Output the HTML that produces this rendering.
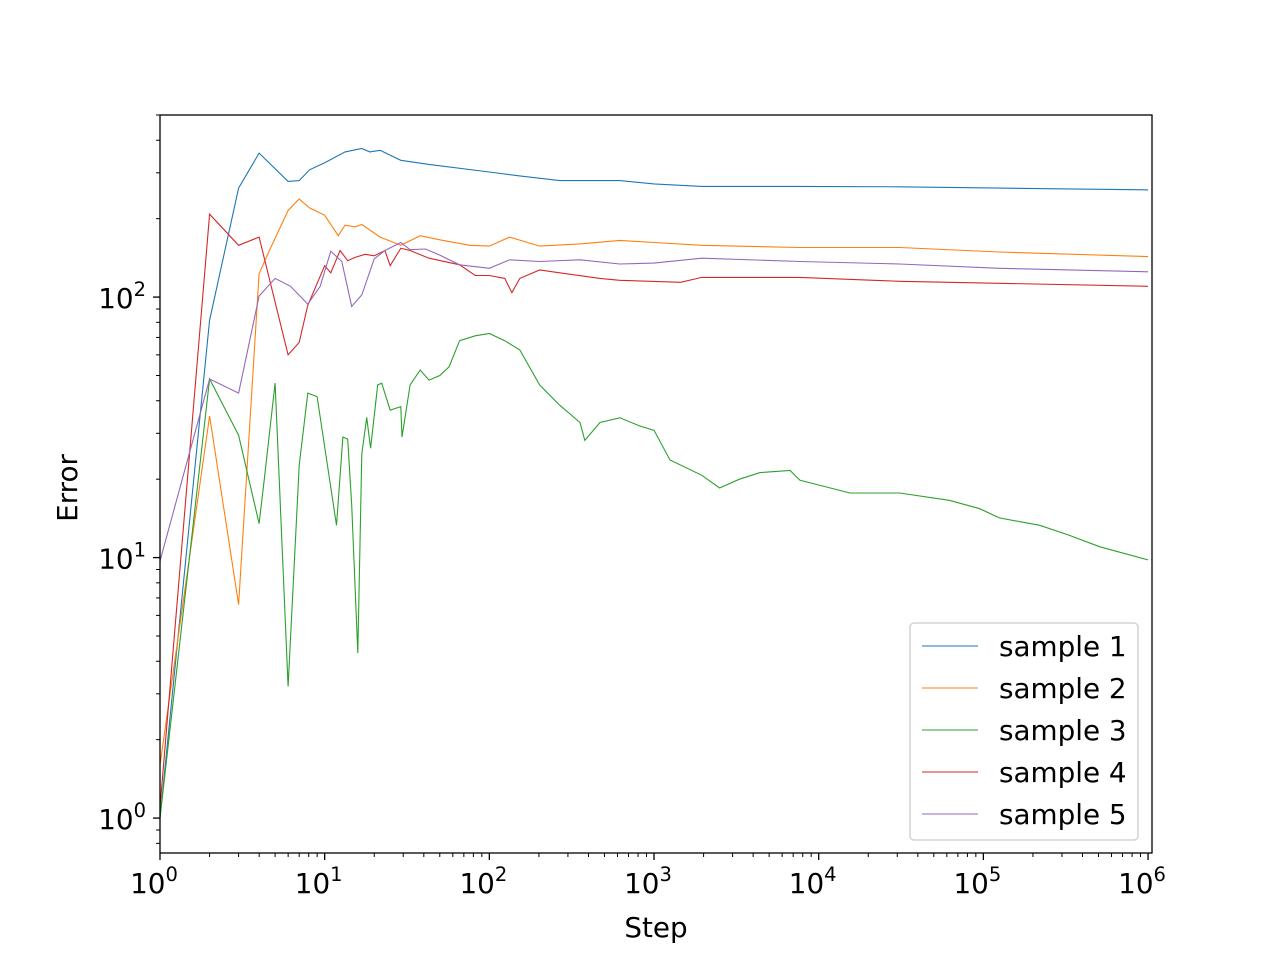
<!DOCTYPE html>
<html><head><meta charset="utf-8"><style>
html,body{margin:0;padding:0;background:#fff}
svg text{font-family:"DejaVu Sans","Liberation Sans",sans-serif;fill:#000}
</style></head><body>
<svg id="chart" width="1280" height="960" xmlns="http://www.w3.org/2000/svg"></svg>
<script>
const seriesNames=["sample 1","sample 2","sample 3","sample 4","sample 5"];
const colors=["#1f77b4","#ff7f0e","#2ca02c","#d62728","#9467bd"];
const s1Steps=[1,2,3,4,6,7,8.1,10,13.3,16.8,18.8,21.7,29,43,100,153,267,620,1000,1950,7700,31000,125000,1000000];
const s1Vals=[1,81.6,262,357,278,280,308,328,361,372,361,366,335,323,302,292,280,280,272,266,266,265,262,258];
const s2Steps=[1,2,3,4,4.6,6,7,8.1,10,12.1,13.3,15.3,16.8,21.7,29,38,50,76,100,133,202,355,620,1000,1950,7700,31000,125000,1000000];
const s2Vals=[1.6,35,6.6,123,150,215,238,220,206,172,189,186,190,170,158,172,166,158,157,170,157,160,165,162,158,155,155,149,143];
const s3Steps=[1,2,3,4,4.3,5,6,7,7.9,9,11.8,12.9,13.8,14.6,15.9,16.8,18,19,21,22.2,25,29,29.5,33,38,43,50,57,66,82,100,124,153,202,267,355,380,470,620,820,1000,1250,1950,2500,3300,4400,6700,7700,10000,15500,31000,62000,95000,125000,220000,330000,510000,1000000];
const s3Vals=[1,48.5,29.5,13.5,20,46.8,3.2,22.6,42.8,41.5,13.3,29,28.5,15.9,4.3,25,34.5,26.3,46,46.7,36.8,38,29,46,52.5,48,50,54,68,71,72.5,68,62.7,46,38.5,33,28.2,33,34.4,32,30.8,23.7,20.7,18.5,20,21.2,21.6,19.8,19,17.7,17.7,16.6,15.4,14.2,13.3,12.2,11,9.8];
const s4Steps=[1,2,3,4,6,7,7.9,10,10.9,12.4,13.8,15.3,17.6,20,23.2,25,29,33,43,66,82,100,124,137,153,202,267,470,620,1450,1950,7700,31000,125000,1000000];
const s4Vals=[1.1,208,158,170,60,67,93,132,124,151,138,142,146,144,151,132,154,151,141,133,121,121,118,104,118,127,124,118,116,114,119,119,115,113,110];
const s5Steps=[1,2,3,4,5,6.2,7.9,9.4,10.9,12.7,14.6,16.8,20,23.2,29,33,41,50,66,100,133,202,355,620,1000,1950,7700,31000,125000,1000000];
const s5Vals=[9.7,48.5,42.8,101,118,110,94,110,150,137,92,102,140,151,162,152,153,145,133,129,139,137,139,134,135,141,137,134,129,125];
const allSteps=[s1Steps,s2Steps,s3Steps,s4Steps,s5Steps];
const allVals=[s1Vals,s2Vals,s3Vals,s4Vals,s5Vals];
const xTickLabels=["0","1","2","3","4","5","6"];
const yTickLabels=["0","1","2"];

const L=160,R=1152,T=115,B=853;
const xMin=0,xMax=6.024,yMin=-0.134,yMax=2.699;
const X=v=>L+(Math.log10(v)-xMin)/(xMax-xMin)*(R-L);
const Y=v=>B-(Math.log10(v)-yMin)/(yMax-yMin)*(B-T);
const svg=document.getElementById('chart');
const NS="http://www.w3.org/2000/svg";
function mk(tag,attrs,parent){const e=document.createElementNS(NS,tag);for(const k in attrs)e.setAttribute(k,attrs[k]);(parent||svg).appendChild(e);return e;}

const plot=mk('g',{});


mk('defs',{}).innerHTML='<clipPath id="clip"><rect x="'+L+'" y="'+T+'" width="'+(R-L)+'" height="'+(B-T)+'"/></clipPath>';
for(let i=0;i<5;i++){
  const pts=allSteps[i].map((s,j)=>X(s).toFixed(1)+','+Y(allVals[i][j]).toFixed(1)).join(' ');
  const pl=mk('polyline',{points:pts,fill:'none',stroke:colors[i],'stroke-width':1.1,'clip-path':'url(#clip)'},plot);
  
  
}
const frame=mk('rect',{x:L,y:T,width:R-L,height:B-T,fill:'none',stroke:'#000','stroke-width':1.3});



const FS=27.8, SUP=19.5;
for(let d=0;d<=6;d++){
  for(let m=1;m<=9;m++){
    const v=m*Math.pow(10,d);const px=X(v);if(px>R+0.5)continue;
    const len=m===1?7:4;
    mk('line',{x1:px,y1:B,x2:px,y2:B+len,stroke:'#000','stroke-width':m===1?1.3:1});
  }
  const t=mk('text',{x:X(Math.pow(10,d))-6,y:B+40,'font-size':FS,'text-anchor':'middle'});
  
  
  t.innerHTML='10<tspan dy="-12" font-size="'+SUP+'">'+xTickLabels[d]+'</tspan>';
}
for(let d=-1;d<=2;d++){
  for(let m=1;m<=9;m++){
    const v=m*Math.pow(10,d);const py=Y(v);if(py<T-0.5||py>B+0.5)continue;
    const len=m===1?7:4;
    mk('line',{x1:L,y1:py,x2:L-len,y2:py,stroke:'#000','stroke-width':m===1?1.3:1});
  }
  if(d>=0){
    const t=mk('text',{x:L-14,y:Y(Math.pow(10,d))+11,'font-size':FS,'text-anchor':'end'});
    
    
    t.innerHTML='10<tspan dy="-12" font-size="'+SUP+'">'+yTickLabels[d]+'</tspan>';
  }
}
const xt=mk('text',{x:656,y:937,'font-size':FS,'text-anchor':'middle'});


xt.textContent='Step';
const yt=mk('text',{x:0,y:0,'font-size':FS,'text-anchor':'middle',transform:'translate(77,488) rotate(-90)'});


yt.textContent='Error';

const lg=mk('g',{});


mk('rect',{x:910,y:623,width:228,height:217,rx:4,fill:'#fff','fill-opacity':0.8,stroke:'#ccc','stroke-width':1.3},lg);
for(let i=0;i<5;i++){
  const yy=646+i*42;
  const e=mk('g',{},lg);
  
  
  mk('line',{x1:922,y1:yy,x2:978,y2:yy,stroke:colors[i],'stroke-width':1.1},e);
  const t=mk('text',{x:999,y:yy+10,'font-size':FS},e);
  t.textContent=seriesNames[i];
}
</script>
</body></html>
